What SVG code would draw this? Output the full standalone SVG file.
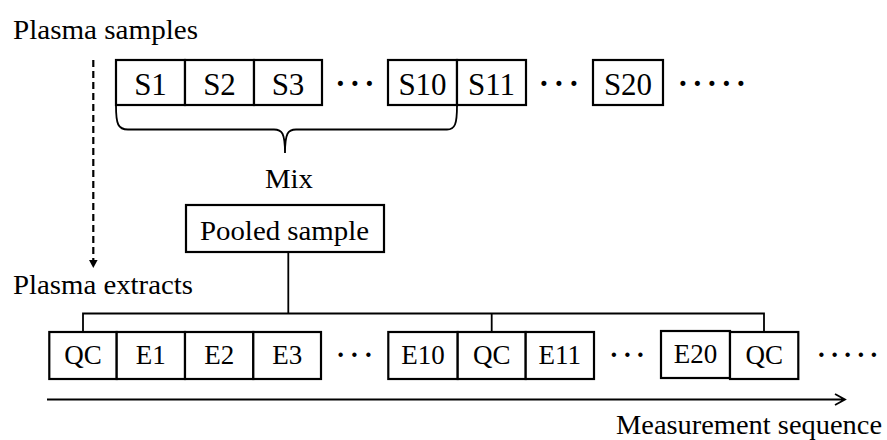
<svg xmlns="http://www.w3.org/2000/svg" width="887" height="440" viewBox="0 0 887 440">
<defs>
<style>
text{font-family:"Liberation Serif","Times New Roman",serif;fill:#000}
.cap{font-size:27px}
.lt{font-size:31px;text-anchor:middle}
.lb{font-size:27px;text-anchor:middle}
.dt{font-weight:bold}
.box{fill:#fff;stroke:#000;stroke-width:2.2}
.ln{fill:none;stroke:#000;stroke-width:1.8}
</style>
</defs>
<rect width="887" height="440" fill="#fff"/>

<text class="cap" x="13" y="39" textLength="185" lengthAdjust="spacingAndGlyphs">Plasma samples</text>
<text class="cap" x="13" y="294" textLength="180" lengthAdjust="spacingAndGlyphs">Plasma extracts</text>
<text class="cap" x="265" y="188" textLength="48" lengthAdjust="spacingAndGlyphs">Mix</text>
<text class="cap" x="616" y="434" textLength="266" lengthAdjust="spacingAndGlyphs">Measurement sequence</text>

<g id="connectors">
<line x1="93.3" y1="60" x2="93.3" y2="260" stroke="#000" stroke-width="2.2" stroke-dasharray="7,4"/>
<path d="M89,260 L97.6,260 L93.3,268 Z" fill="#000"/>
<path class="ln" d="M116,106 C116,124 118,129.5 128,129.5 L274,129.5 C282,129.5 285,133 285,153 M285,153 C285,133 288,129.5 296,129.5 L447,129.5 C455,129.5 457,124 457,106"/>
<path class="ln" d="M288.3,252 L288.3,313.5 M83,332 L83,313.5 L764,313.5 L764,332 M491.7,313.5 L491.7,332"/>
<path class="ln" d="M47,399.5 L845,399.5 M835,394 L845,399.5 L835,405"/>
</g>

<g id="s1"><rect class="box" x="116" y="60" width="69" height="45"/><text class="lt" x="150.5" y="95">S1</text></g>
<g id="s2"><rect class="box" x="185" y="60" width="69" height="45"/><text class="lt" x="219.5" y="95">S2</text></g>
<g id="s3"><rect class="box" x="254" y="60" width="68" height="45"/><text class="lt" x="288" y="95">S3</text></g>
<text class="lt dt" x="336.6 351.1 365.6" y="85.5" style="text-anchor:start">...</text>
<g id="s10"><rect class="box" x="388" y="60" width="69" height="45"/><text class="lt" x="422.5" y="95">S10</text></g>
<g id="s11"><rect class="box" x="457" y="60" width="69" height="45"/><text class="lt" x="491.5" y="95">S11</text></g>
<text class="lt dt" x="540.1 555.1 570.1" y="85.5" style="text-anchor:start">...</text>
<g id="s20"><rect class="box" x="593" y="60" width="70" height="45"/><text class="lt" x="628" y="95">S20</text></g>
<text class="lt dt" x="679.1 693.6 708.1 722.6 737.1" y="85.5" style="text-anchor:start">.....</text>

<g id="pooled"><rect class="box" x="186" y="205" width="198" height="47"/><text class="cap" x="200" y="239.5" textLength="169" lengthAdjust="spacingAndGlyphs">Pooled sample</text></g>

<g id="qc1"><rect class="box" x="49.3" y="332" width="67.4" height="47"/><text class="lb" x="83" y="364">QC</text></g>
<g id="e1"><rect class="box" x="116.7" y="332" width="68.3" height="47"/><text class="lb" x="150.8" y="364">E1</text></g>
<g id="e2"><rect class="box" x="185" y="332" width="68.3" height="47"/><text class="lb" x="219.2" y="364">E2</text></g>
<g id="e3"><rect class="box" x="253.3" y="332" width="67.7" height="47"/><text class="lb" x="287.2" y="364">E3</text></g>
<text class="lb dt" x="337.3 351.1 364.9" y="356.5" style="text-anchor:start">...</text>
<g id="e10"><rect class="box" x="388.3" y="332" width="69.4" height="47"/><text class="lb" x="423" y="364">E10</text></g>
<g id="qc2"><rect class="box" x="457.7" y="332" width="68" height="47"/><text class="lb" x="491.7" y="364">QC</text></g>
<g id="e11"><rect class="box" x="525.7" y="332" width="68.3" height="47"/><text class="lb" x="559.8" y="364">E11</text></g>
<text class="lb dt" x="610.6 623.9 637.1" y="356.5" style="text-anchor:start">...</text>
<g id="e20"><rect class="box" x="661" y="331" width="69" height="47"/><text class="lb" x="695.5" y="363">E20</text></g>
<g id="qc3"><rect class="box" x="730" y="332" width="68.3" height="47"/><text class="lb" x="764.2" y="364">QC</text></g>
<text class="lb dt" x="818.1 831.2 844.3 857.4 870.5" y="356.5" style="text-anchor:start">.....</text>
</svg>
